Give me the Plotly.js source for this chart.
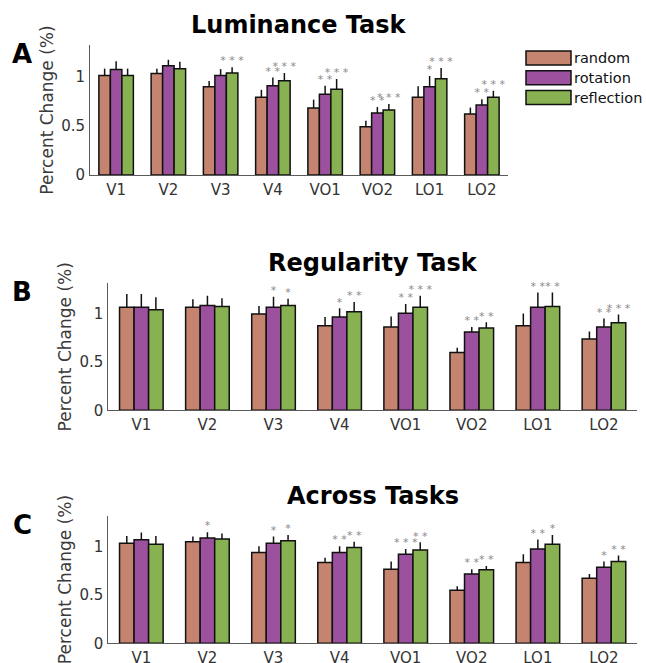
<!DOCTYPE html>
<html>
<head>
<meta charset="utf-8">
<script src="https://cdn.plot.ly/plotly-3.0.1.min.js"></script>
<style>html,body{margin:0;padding:0;background:#fff;}#chart{width:646px;height:663px;}</style>
</head>
<body>
<div id="chart"></div>
<script>
// ---------- data ----------
const regions = ['V1', 'V2', 'V3', 'V4', 'VO1', 'VO2', 'LO1', 'LO2'];
const seriesNames = ['random', 'rotation', 'reflection'];
const panelTitles = ['Luminance Task', 'Regularity Task', 'Across Tasks'];
const panelLetters = ['A', 'B', 'C'];
const yTickVals = [0, 0.5, 1];
const yTickText = ['0', '0.5', '1'];

// Panel A: Luminance Task
const lumRandom = [1.01, 1.03, 0.895, 0.79, 0.68, 0.49, 0.79, 0.62];
const lumRotation = [1.07, 1.11, 1.01, 0.905, 0.82, 0.63, 0.895, 0.71];
const lumReflection = [1.01, 1.08, 1.035, 0.956, 0.87, 0.66, 0.977, 0.79];
const lumRandomErr = [0.07, 0.05, 0.06, 0.075, 0.085, 0.06, 0.11, 0.065];
const lumRotationErr = [0.085, 0.06, 0.065, 0.085, 0.085, 0.06, 0.11, 0.06];
const lumReflectionErr = [0.07, 0.07, 0.06, 0.08, 0.105, 0.06, 0.11, 0.065];
const lumRotationStars = ['', '', '', '* *', '* *', '* *', '*', '* *'];
const lumReflectionStars = ['', '', '* * *', '* * *', '* * *', '* * *', '* * *', '* * *'];

// Panel B: Regularity Task
const regRandom = [1.07, 1.07, 1.00, 0.88, 0.865, 0.60, 0.88, 0.74];
const regRotation = [1.07, 1.09, 1.07, 0.97, 1.01, 0.815, 1.07, 0.865];
const regReflection = [1.045, 1.08, 1.09, 1.025, 1.07, 0.855, 1.08, 0.91];
const regRandomErr = [0.14, 0.085, 0.085, 0.09, 0.11, 0.05, 0.125, 0.08];
const regRotationErr = [0.14, 0.10, 0.11, 0.09, 0.095, 0.05, 0.155, 0.09];
const regReflectionErr = [0.13, 0.085, 0.07, 0.10, 0.12, 0.06, 0.145, 0.085];
const regRotationStars = ['', '', '*', '*', '* *', '* *', '* *', '* *'];
const regReflectionStars = ['', '', '*', '* *', '* * *', '* *', '* *', '* * *'];

// Panel C: Across Tasks
const accRandom = [1.035, 1.05, 0.94, 0.835, 0.765, 0.55, 0.835, 0.673];
const accRotation = [1.07, 1.09, 1.035, 0.94, 0.92, 0.717, 0.975, 0.787];
const accReflection = [1.025, 1.08, 1.06, 0.99, 0.965, 0.76, 1.025, 0.845];
const accRandomErr = [0.075, 0.055, 0.065, 0.05, 0.08, 0.04, 0.087, 0.045];
const accRotationErr = [0.075, 0.06, 0.07, 0.065, 0.055, 0.05, 0.10, 0.058];
const accReflectionErr = [0.085, 0.055, 0.06, 0.06, 0.08, 0.04, 0.096, 0.062];
const accRotationStars = ['', '*', '*', '* *', '* * *', '* *', '* *', '*'];
const accReflectionStars = ['', '', '*', '* *', '* *', '* *', '*', '* *'];

// ---------- styling ----------
const W = 646, H = 663;
const colors = ['#c4846f', '#9b519e', '#88b252'];
const starColor = '#8a8a8a';
const axisColor = '#5a5a5a';
const textColor = '#333333';
const FONT = 'DejaVu Sans, sans-serif';
const BARGAP = 0.34;

const px = x => x / W;
const py = y => 1 - y / H;

const panels = [
  {vals: [lumRandom, lumRotation, lumReflection], errs: [lumRandomErr, lumRotationErr, lumReflectionErr],
   stars: [null, lumRotationStars, lumReflectionStars], xd: [90, 508], yd: [45, 175]},
  {vals: [regRandom, regRotation, regReflection], errs: [regRandomErr, regRotationErr, regReflectionErr],
   stars: [null, regRotationStars, regReflectionStars], xd: [108.3, 637], yd: [283.3, 410.3]},
  {vals: [accRandom, accRotation, accReflection], errs: [accRandomErr, accRotationErr, accReflectionErr],
   stars: [null, accRotationStars, accReflectionStars], xd: [108.3, 637], yd: [515.7, 643.3]}
];

const idx = regions.map((_, i) => i + 1);
const barW = (1 - BARGAP) / seriesNames.length;

const traces = [];
const layout = {
  width: W, height: H,
  margin: {l: 0, r: 0, t: 0, b: 0},
  paper_bgcolor: '#fff', plot_bgcolor: 'rgba(0,0,0,0)',
  barmode: 'group', bargap: BARGAP, bargroupgap: 0,
  showlegend: false,
  font: {family: FONT, color: textColor},
  annotations: [], shapes: []
};

panels.forEach((p, k) => {
  const sfx = k === 0 ? '' : String(k + 1);
  const xa = 'x' + sfx, ya = 'y' + sfx;
  seriesNames.forEach((name, s) => {
    traces.push({
      type: 'bar', name: name, x: idx, y: p.vals[s], xaxis: xa, yaxis: ya,
      marker: {color: colors[s], line: {color: '#111', width: 1.5}},
      error_y: {type: 'data', symmetric: false, array: p.errs[s], arrayminus: p.errs[s].map(() => 0),
                color: '#111', thickness: 1.5, width: 0},
      hoverinfo: 'x+y'
    });
  });
  seriesNames.forEach((name, s) => {
    if (!p.stars[s]) return;
    const off = (s - (seriesNames.length - 1) / 2) * barW;
    traces.push({
      type: 'scatter', mode: 'text', xaxis: xa, yaxis: ya,
      x: idx.map(v => v + off),
      y: p.vals[s].map((v, i) => v + p.errs[s][i]),
      text: p.stars[s], textposition: 'top center',
      textfont: {family: FONT, size: 11, color: starColor},
      hoverinfo: 'skip', cliponaxis: false
    });
  });
  layout['xaxis' + sfx] = {
    domain: [px(p.xd[0]), px(p.xd[1])], anchor: ya,
    range: [0.5, regions.length + 0.5],
    tickvals: idx, ticktext: regions,
    showline: true, linecolor: axisColor, linewidth: 1,
    ticks: 'outside', ticklen: 1, tickcolor: 'rgba(0,0,0,0)',
    showgrid: false, zeroline: false,
    tickfont: {family: FONT, size: 15, color: textColor}, fixedrange: true
  };
  layout['yaxis' + sfx] = {
    domain: [py(p.yd[1]), py(p.yd[0])], anchor: xa,
    range: [0, 1.32],
    tickvals: yTickVals, ticktext: yTickText,
    showline: true, linecolor: axisColor, linewidth: 1,
    ticks: 'outside', ticklen: 1, tickcolor: 'rgba(0,0,0,0)',
    showgrid: false, zeroline: false,
    tickfont: {family: FONT, size: 15, color: textColor},
    title: {text: 'Percent Change (%)', font: {family: FONT, size: 17, color: '#3a3a3a'}, standoff: 3},
    fixedrange: true
  };
  // panel title
  layout.annotations.push({
    xref: 'paper', yref: 'paper', x: px((p.xd[0] + p.xd[1]) / 2), y: py(p.yd[0] - 20),
    xanchor: 'center', yanchor: 'middle', showarrow: false,
    text: '<b>' + panelTitles[k] + '</b>', font: {family: FONT, size: 24, color: '#000'}
  });
  // panel letter
  layout.annotations.push({
    xref: 'paper', yref: 'paper', x: px(22), y: py(p.yd[0] + 9),
    xanchor: 'center', yanchor: 'middle', showarrow: false,
    text: '<b>' + panelLetters[k] + '</b>', font: {family: FONT, size: 26, color: '#000'}
  });
});

// custom legend (patch style)
const legX0 = 526, legX1 = 571, legY0 = 51, legH = 14, legStep = 19.8;
seriesNames.forEach((name, s) => {
  const top = legY0 + s * legStep;
  layout.shapes.push({
    type: 'rect', xref: 'paper', yref: 'paper',
    x0: px(legX0), x1: px(legX1), y0: py(top + legH), y1: py(top),
    fillcolor: colors[s], line: {color: '#111', width: 1.5}
  });
  layout.annotations.push({
    xref: 'paper', yref: 'paper', x: px(legX1 + 1), y: py(top + legH / 2),
    xanchor: 'left', yanchor: 'middle', showarrow: false,
    text: name, font: {family: FONT, size: 14.5, color: '#111'}
  });
});

Plotly.newPlot('chart', traces, layout, {displayModeBar: false, staticPlot: true});
</script>
</body>
</html>
